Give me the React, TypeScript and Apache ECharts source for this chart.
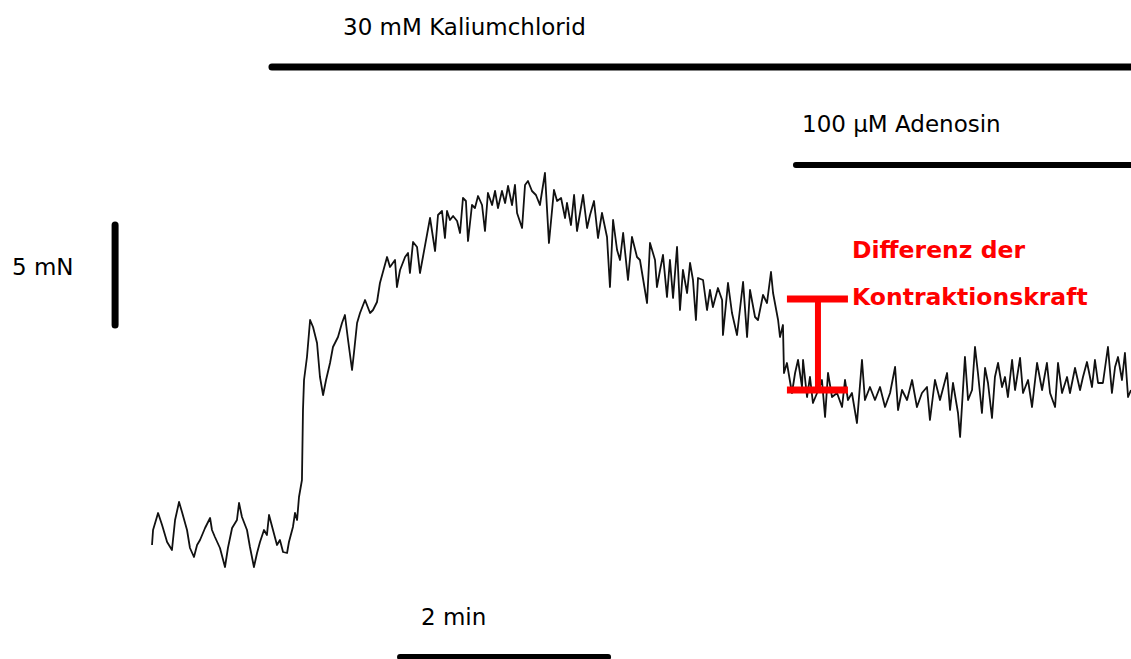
import React, { useEffect, useRef } from "react";
import * as echarts from "echarts";

// ---- Data (time in s from start of recording, force in mN relative to baseline) ----
const baselineTrace: [number, number][] = [
  [0, 0.7], [0.6, 1.45], [3.5, 2.3], [5.8, 1.7], [8.7, 0.85], [11.5, 0.45], [13.3, 1.95], [15.6, 2.85],
  [17.3, 2.35], [20.2, 1.45], [21.9, 0.55], [24.2, 0.1], [26.0, 0.7], [27.7, 0.95], [30.6, 1.55],
  [33.5, 2.05], [34.6, 1.45], [36.3, 1.1], [39.2, 0.55], [42.1, -0.4], [43.8, 0.55], [46.2, 1.55],
  [49.0, 1.95], [50.2, 2.8], [51.9, 2.1], [54.8, 1.45], [56.5, 0.6], [58.8, -0.4], [60.6, 0.3],
  [62.3, 0.85], [64.6, 1.45], [66.3, 1.2], [67.5, 2.2], [69.8, 1.45], [72.1, 0.7], [73.8, 0.95],
  [75.6, 0.35], [77.9, 0.3], [79.0, 0.85], [81.3, 1.6], [82.5, 2.3], [83.7, 1.95],
];

const kclRiseTrace: [number, number][] = [
  [84.8, 3.1], [86.5, 3.95], [87.1, 7.45], [87.7, 8.95], [89.4, 10.1], [91.2, 11.95], [92.9, 11.6],
  [95.2, 10.8], [96.9, 9.1], [98.7, 8.2], [100.4, 8.95], [102.7, 9.8], [104.4, 10.6], [107.3, 11.1],
  [109.6, 11.8], [111.3, 12.2], [113.1, 10.95], [115.4, 9.45], [116.5, 10.3], [118.3, 11.8],
  [120.0, 12.3], [122.9, 12.95], [125.8, 12.3], [127.5, 12.45], [129.8, 12.85],
];

const plateauTrace: [number, number][] = [
  [131.5, 13.8], [135.6, 15.1], [137.3, 14.6], [140.2, 14.95], [141.3, 13.6], [143.1, 14.45],
  [146.0, 15.1], [147.7, 15.3], [148.8, 14.3], [150.6, 15.85], [152.9, 15.6], [154.6, 14.3],
  [156.3, 15.1], [160.4, 17.05], [163.3, 15.4], [165.0, 17.2], [167.3, 17.4], [169.0, 16.05],
  [170.2, 17.4], [171.9, 16.95], [173.7, 17.15], [176.0, 16.9], [177.7, 16.3], [179.4, 18.05],
  [181.1, 17.9], [182.3, 15.9], [184.6, 17.7], [186.3, 17.55], [188.1, 18.15], [190.4, 17.7],
  [192.1, 16.4], [193.8, 18.3], [196.2, 17.7], [197.9, 18.4], [199.6, 17.55], [201.9, 18.4],
  [203.7, 17.8], [205.4, 18.65], [207.7, 17.7], [209.4, 18.7], [210.6, 17.3], [213.5, 16.55],
  [215.2, 18.7], [216.9, 18.9], [219.2, 18.4], [221.5, 18.2], [223.8, 17.7], [226.7, 19.3],
  [229.0, 15.8], [231.9, 18.45], [233.7, 17.9], [236.0, 18.05], [238.3, 17.05], [239.4, 17.8],
  [241.7, 16.7], [243.5, 18.2], [245.2, 16.4], [248.7, 18.2], [251.0, 16.55], [252.7, 17.2],
  [255.0, 17.9], [257.3, 16.05], [259.6, 17.3], [262.5, 16.1],
];

const declineTrace: [number, number][] = [
  [264.2, 13.6], [266.0, 16.95], [268.3, 15.45], [270.0, 14.95], [271.8, 16.3], [274.6, 13.95],
  [276.9, 16.1], [279.8, 15.1], [281.5, 14.95], [285.6, 12.8], [287.3, 15.8], [290.2, 14.95],
  [291.3, 13.6], [293.1, 14.45], [294.8, 15.2], [297.1, 13.1], [298.8, 14.95], [300.6, 13.05],
  [302.9, 15.6], [304.6, 12.45], [306.3, 14.45], [308.7, 13.3], [310.4, 14.8], [312.1, 13.95],
  [313.8, 11.95], [315.0, 14.05], [317.9, 13.95], [320.2, 12.45], [321.9, 13.45], [323.6, 12.6],
  [326.5, 13.55], [328.9, 12.95], [329.4, 11.2], [332.3, 13.8], [334.6, 12.3], [337.5, 11.2],
  [341.0, 13.85], [343.3, 11.1], [345.0, 13.45], [347.9, 12.1], [349.6, 11.95], [352.5, 13.2],
  [354.8, 12.8], [357.1, 14.35], [358.3, 13.3], [361.2, 11.95], [362.3, 11.1], [364.0, 11.7],
  [364.6, 9.3], [366.3, 9.8], [369.2, 8.3], [371.0, 9.3],
];

const adenosineTrace: [number, number][] = [
  [372.7, 9.95], [375.0, 8.6], [375.6, 9.95], [377.9, 8.1], [379.6, 9.1], [381.3, 7.8], [383.7, 8.3],
  [386.5, 8.95], [388.3, 7.1], [390.0, 9.3], [392.3, 8.1], [395.2, 8.3], [398.1, 7.6], [399.8, 8.95],
  [401.5, 7.95], [403.8, 8.3], [406.7, 6.8], [409.6, 9.95], [411.3, 7.95], [414.2, 8.6], [417.1, 7.95],
  [420.0, 8.6], [422.9, 7.6], [425.8, 8.3], [428.7, 9.6], [430.4, 7.45], [432.7, 8.45], [435.6, 7.95],
  [438.5, 8.95], [441.3, 7.6], [444.2, 8.3], [447.1, 8.6], [448.8, 6.95], [451.7, 8.95], [454.6, 7.95],
  [458.7, 9.3], [460.4, 7.45], [462.1, 8.8], [465.0, 7.3], [466.2, 6.1], [469.0, 10.1], [470.8, 7.95],
  [473.1, 8.45], [474.8, 10.6], [476.5, 9.3], [478.8, 7.3], [480.6, 9.55], [482.3, 8.8], [484.6, 7.05],
  [486.3, 9.1], [488.1, 9.8], [490.4, 8.6], [492.1, 9.1], [493.8, 8.1], [496.2, 9.95], [497.9, 8.45],
  [500.8, 10.05], [502.5, 8.3], [505.4, 8.95], [507.7, 7.6], [510.6, 9.8], [513.5, 8.45], [516.3, 9.8],
  [518.1, 8.3], [521.0, 7.6], [522.7, 9.8], [525.0, 8.3], [527.9, 9.1], [529.6, 8.3], [532.5, 9.55],
  [535.4, 8.45], [537.1, 9.1], [539.4, 9.85], [542.3, 8.6], [544.0, 9.95], [545.8, 8.8], [548.6, 8.8],
  [551.5, 10.6], [553.8, 8.3], [555.6, 9.6], [557.3, 10.1], [559.6, 8.95], [561.3, 10.3], [563.1, 8.1],
  [564.8, 8.45],
];

// Treatment onsets (s) and scale bar sizes
const KCL_START_S = 69.2;
const ADENOSIN_START_S = 371;
const SCALE_FORCE_MN = 5;
const SCALE_TIME_S = 120;
// Contraction force level before / after adenosine (mN)
const FORCE_BEFORE_MN = 13.0;
const FORCE_AFTER_MN = 8.45;

const labels = {
  kcl: "30 mM Kaliumchlorid",
  adenosin: "100 µM Adenosin",
  force: "5 mN",
  time: "2 min",
  diff1: "Differenz der",
  diff2: "Kontraktionskraft",
};

// ---- Layout (axis ranges chosen so the whole canvas is the plot area) ----
const X_MIN = -87.7;
const X_MAX = 564.8;
const Y_MIN = -5;
const Y_MAX = 27.95;

const FONT = '"DejaVu Sans", Verdana, sans-serif';

export default function App() {
  const ref = useRef<HTMLDivElement>(null);

  useEffect(() => {
    if (!ref.current) return;
    const chart = echarts.init(ref.current, null, { renderer: "svg" });

    const trace = [
      ...baselineTrace,
      ...kclRiseTrace,
      ...plateauTrace,
      ...declineTrace,
      ...adenosineTrace,
    ];

    const seg = (data: [number, number][], width: number, color = "#000", cap = "round") => ({
      type: "line",
      data,
      symbol: "none",
      silent: true,
      clip: false,
      lineStyle: { color, width, cap },
      z: 3,
    });

    const forceBarX = -21.3;
    const forceBarY0 = 11.7;
    const timeBarX0 = 143.1;
    const timeBarY = -4.9;
    const kclBarY = 24.6;
    const adeBarY = 19.7;
    const diffX0 = 366.3;
    const diffX1 = 401.5;
    const diffXm = 384.2;

    chart.setOption({
      animation: false,
      backgroundColor: "#ffffff",
      grid: { left: 0, right: 0, top: 0, bottom: 0, containLabel: false },
      xAxis: { type: "value", min: X_MIN, max: X_MAX, show: false },
      yAxis: { type: "value", min: Y_MIN, max: Y_MAX, show: false },
      series: [
        {
          type: "line",
          data: trace,
          symbol: "none",
          silent: true,
          lineStyle: { color: "#111", width: 1.8, join: "round" },
          z: 2,
        },
        seg([[KCL_START_S, kclBarY], [X_MAX + 5, kclBarY]], 7),
        seg([[ADENOSIN_START_S + 0.5, adeBarY], [X_MAX + 5, adeBarY]], 6),
        seg([[forceBarX, forceBarY0], [forceBarX, forceBarY0 + SCALE_FORCE_MN]], 7),
        seg([[timeBarX0, timeBarY], [timeBarX0 + SCALE_TIME_S, timeBarY]], 6),
        seg([[diffX0, FORCE_BEFORE_MN], [diffX1, FORCE_BEFORE_MN]], 7, "#ff0000", "butt"),
        seg([[diffX0, FORCE_AFTER_MN], [diffX1, FORCE_AFTER_MN]], 7, "#ff0000", "butt"),
        seg([[diffXm, FORCE_BEFORE_MN], [diffXm, FORCE_AFTER_MN]], 6, "#ff0000", "butt"),
      ],
      graphic: [
        { type: "text", x: 343, y: 27, style: { text: labels.kcl, font: `23px ${FONT}`, fill: "#000", textVerticalAlign: "middle" } },
        { type: "text", x: 802, y: 124, style: { text: labels.adenosin, font: `23px ${FONT}`, fill: "#000", textVerticalAlign: "middle" } },
        { type: "text", x: 12, y: 267, style: { text: labels.force, font: `23px ${FONT}`, fill: "#000", textVerticalAlign: "middle" } },
        { type: "text", x: 421, y: 617, style: { text: labels.time, font: `23px ${FONT}`, fill: "#000", textVerticalAlign: "middle" } },
        { type: "text", x: 852, y: 250, style: { text: labels.diff1, font: `bold 23.5px ${FONT}`, fill: "#ff0000", textVerticalAlign: "middle" } },
        { type: "text", x: 852, y: 297, style: { text: labels.diff2, font: `bold 23.5px ${FONT}`, fill: "#ff0000", textVerticalAlign: "middle" } },
      ],
    });

    return () => chart.dispose();
  }, []);

  return (
    <div
      ref={ref}
      style={{ position: "absolute", left: 0, top: 0, width: 1131, height: 659, background: "#fff" }}
    />
  );
}
